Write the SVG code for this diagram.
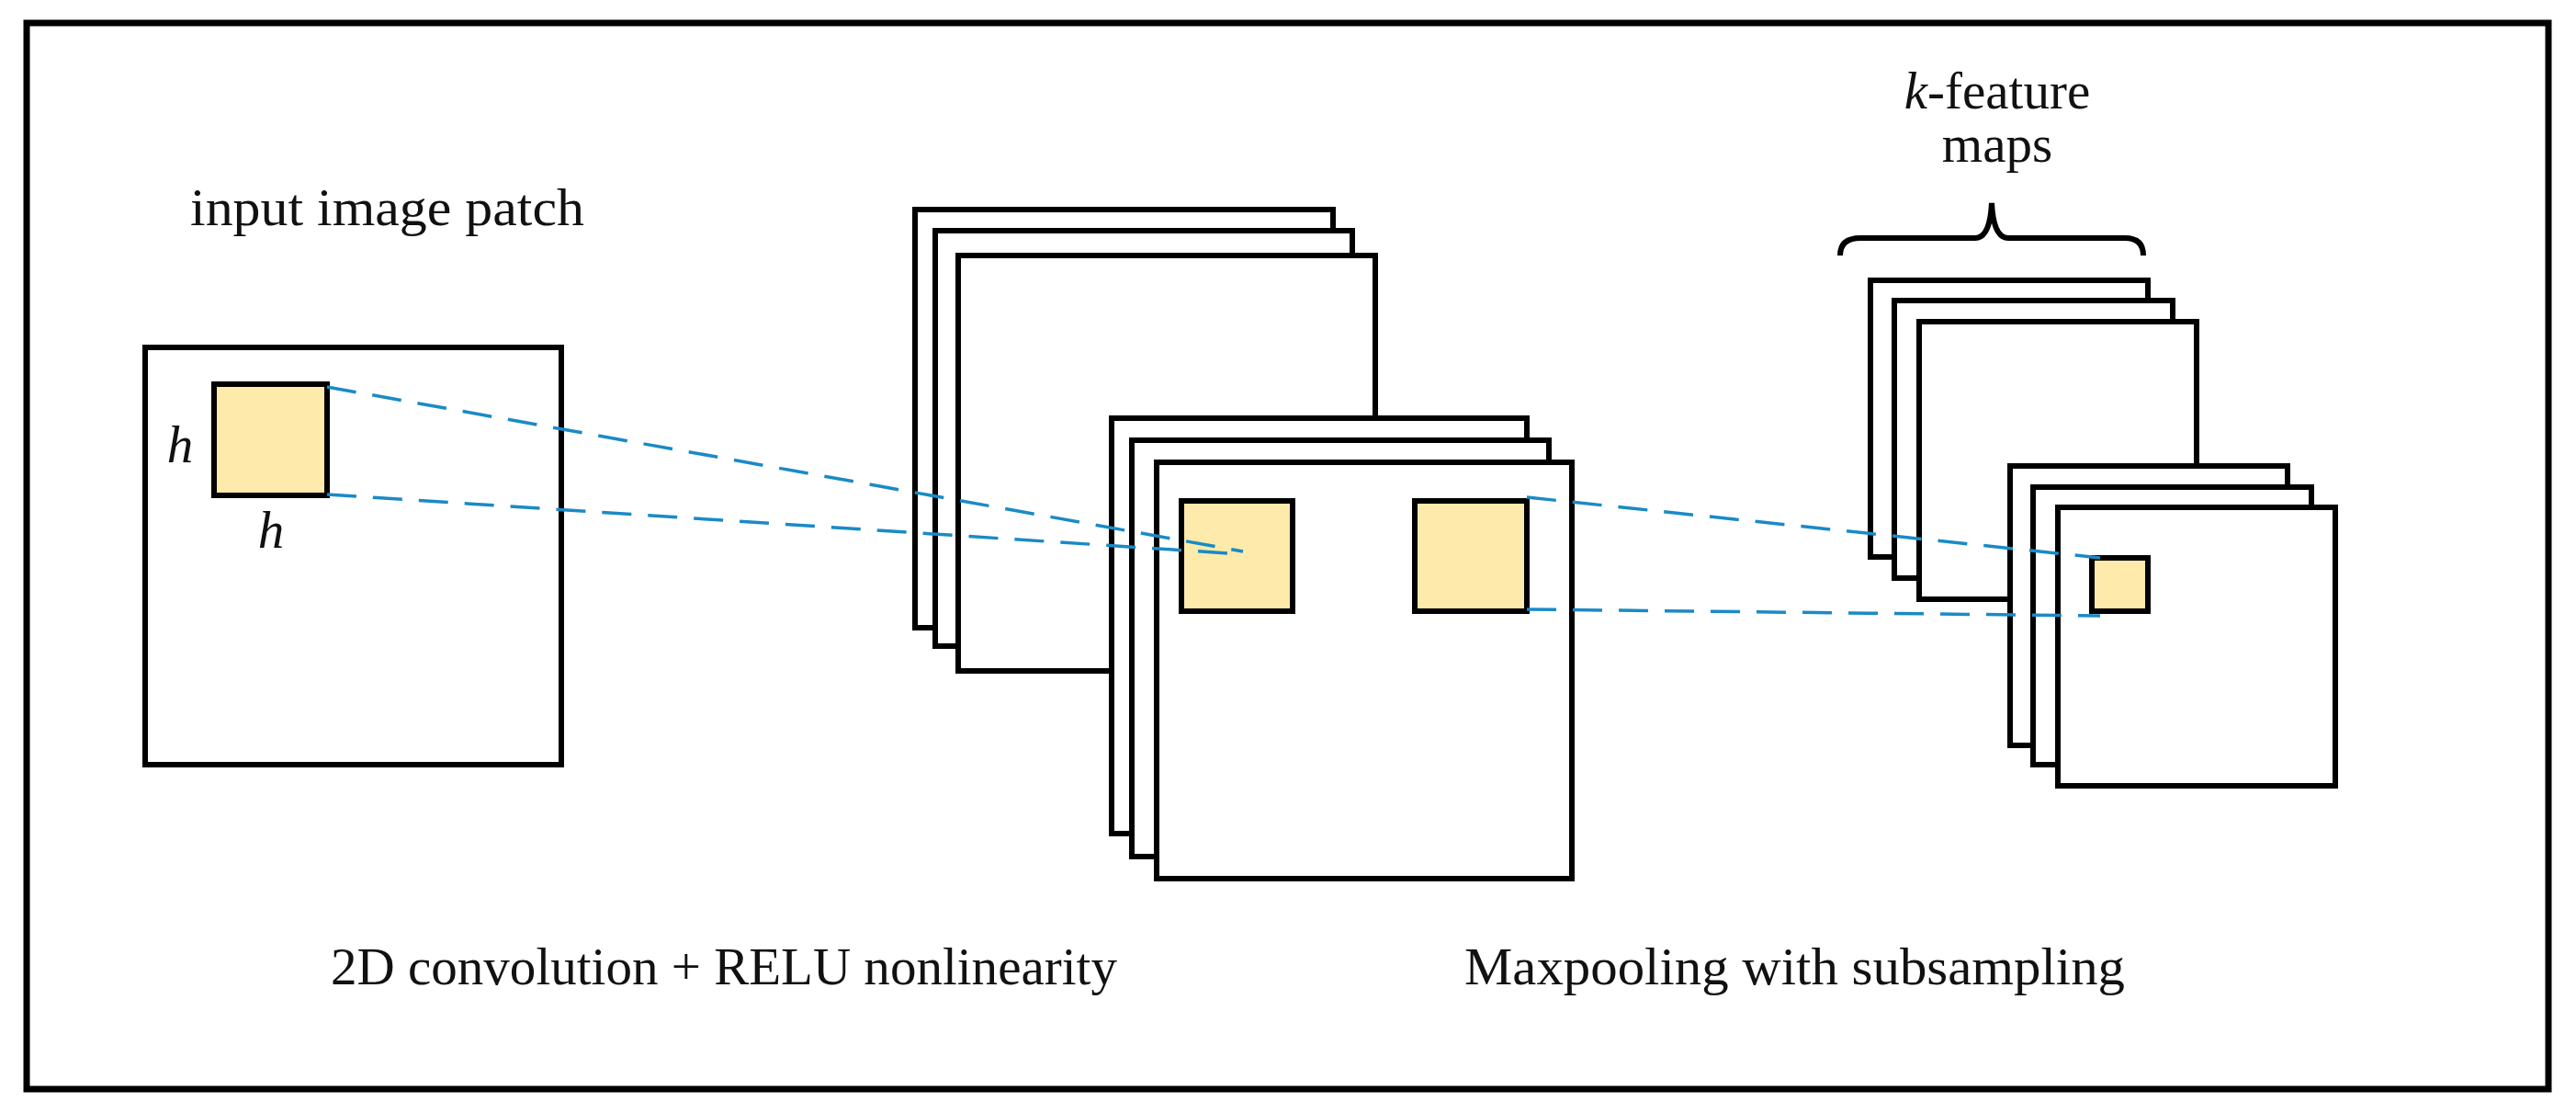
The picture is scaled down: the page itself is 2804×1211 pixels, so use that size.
<svg xmlns="http://www.w3.org/2000/svg" width="2804" height="1211" viewBox="0 0 2804 1211">
<style>
.b{fill:#fff;stroke:#000;stroke-width:6}
.y{fill:#feeaaa;stroke:#000;stroke-width:6}
.t{font-family:"Liberation Serif","DejaVu Serif",serif;font-size:57px;fill:#111}
.d{stroke:#1a8ac6;stroke-width:3.5;stroke-dasharray:32 18;fill:none}
</style>
<rect width="2804" height="1211" fill="#fff"/>
<rect x="29" y="25" width="2745" height="1160" fill="none" stroke="#000" stroke-width="7"/>
<g id="input">
<rect class="b" x="158" y="378" width="453" height="454"/>
<rect class="y" x="233" y="418" width="123" height="121"/>
<text class="t" x="196" y="503" font-style="italic" text-anchor="middle">h</text>
<text class="t" x="295" y="596" font-style="italic" text-anchor="middle">h</text>
<text class="t" x="207" y="245" textLength="429" lengthAdjust="spacingAndGlyphs">input image patch</text>
</g>
<g id="conv-back">
<rect class="b" x="996" y="228" width="455" height="455"/>
<rect class="b" x="1018" y="251" width="454" height="452"/>
<rect class="b" x="1043" y="278" width="454" height="452"/>
</g>
<g id="conv-front">
<rect class="b" x="1210" y="455" width="452" height="452"/>
<rect class="b" x="1232" y="479" width="454" height="453"/>
<rect class="b" x="1259" y="503" width="452" height="453"/>
<rect class="y" x="1286" y="545" width="121" height="120"/>
<rect class="y" x="1540" y="545" width="122" height="120"/>
</g>
<g id="pool-back">
<rect class="b" x="2036" y="305" width="302" height="301"/>
<rect class="b" x="2062" y="327" width="303" height="302"/>
<rect class="b" x="2089" y="350" width="302" height="302"/>
</g>
<g id="pool-front">
<rect class="b" x="2188" y="507" width="302" height="304"/>
<rect class="b" x="2213" y="530" width="303" height="302"/>
<rect class="b" x="2240" y="552" width="302" height="303"/>
<rect class="y" x="2277" y="607" width="61" height="58"/>
</g>
<g id="connectors">
<path class="d" d="M356 421 L1353 600"/>
<path class="d" d="M356 538 L1353 603"/>
<path class="d" d="M1662 541 L2286 607"/>
<path class="d" d="M1662 663 L2286 670"/>
</g>
<g id="brace">
<path d="M2003 278 Q2003 259 2025 259 L2150 259 Q2166 259 2168 221 Q2170 259 2186 259 L2313 259 Q2333 259 2333 278" fill="none" stroke="#000" stroke-width="6"/>
<text class="t" x="2174" y="118" text-anchor="middle"><tspan font-style="italic">k</tspan>-feature</text>
<text class="t" x="2174" y="176" text-anchor="middle">maps</text>
</g>
<text class="t" x="360" y="1071" textLength="856" lengthAdjust="spacingAndGlyphs">2D convolution + RELU nonlinearity</text>
<text class="t" x="1594" y="1071" textLength="719" lengthAdjust="spacingAndGlyphs">Maxpooling with subsampling</text>
</svg>
